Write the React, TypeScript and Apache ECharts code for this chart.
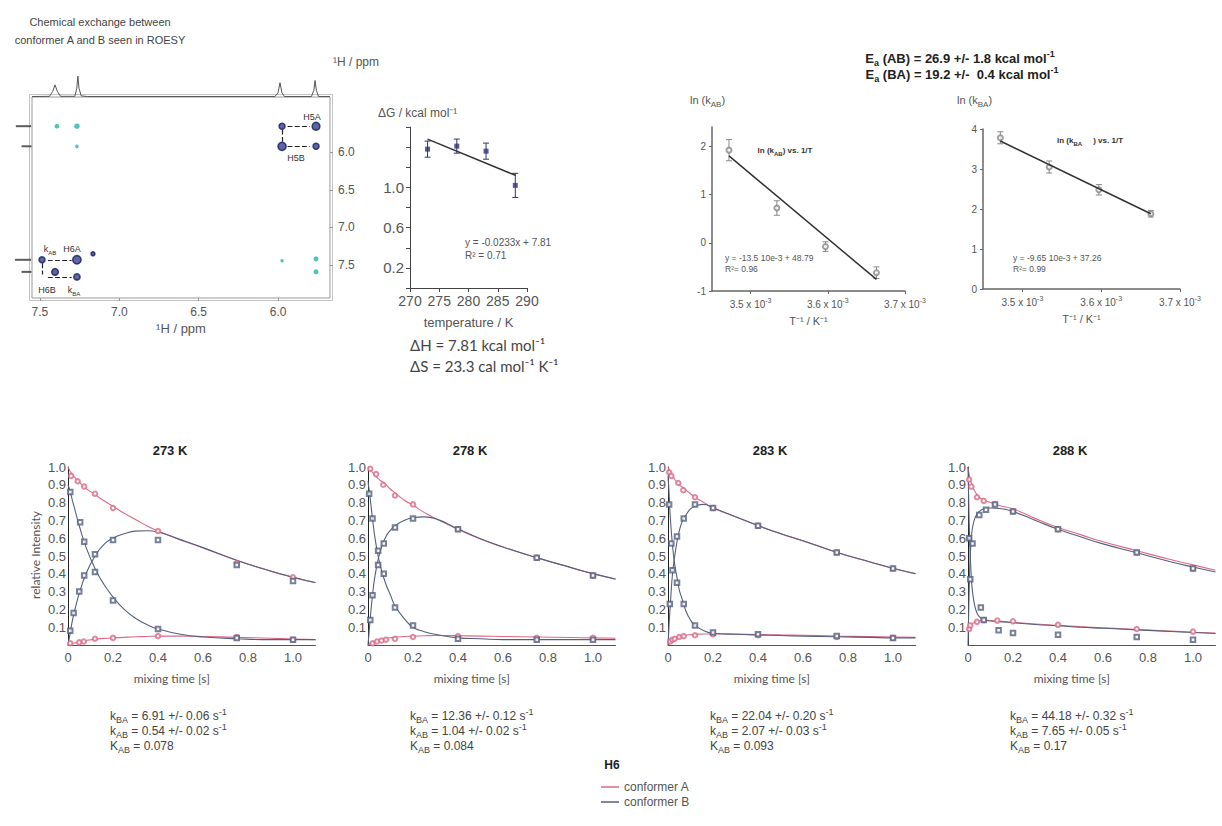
import React, { useEffect, useRef } from 'react';
import * as echarts from 'echarts';

const FONT = '"Liberation Sans", Arial, sans-serif';
const SOFT = 'Lato, "Open Sans", sans-serif';
const GRAY = '#555';
const RED = '#dc6a86';
const BLUE = '#55607f';

// ---------- ROESY panel ----------
const roesyTicks = [6.0, 6.5, 7.0, 7.5];
// [ppm (F2), ppm (F1), relative intensity]
const roesyNavy = [
  [5.975, 5.652, 0.5], [5.761, 5.652, 0.8], [5.975, 5.92, 0.85], [5.761, 5.92, 0.5],
  [7.487, 7.433, 0.5], [7.267, 7.433, 0.9], [7.405, 7.594, 0.6], [7.267, 7.661, 0.55], [7.166, 7.353, 0.15],
];
const roesyCyan = [
  [7.393, 5.652, 0.25], [7.267, 5.652, 0.35], [7.267, 5.92, 0.1],
  [5.975, 7.446, 0.05], [5.761, 7.42, 0.3], [5.761, 7.594, 0.3],
];
const roesyLinks = [
  [[5.94, 5.652], [5.8, 5.652]], [[5.94, 5.92], [5.8, 5.92]], [[5.975, 5.7], [5.975, 5.87]],
  [[7.45, 7.433], [7.3, 7.433]], [[7.45, 7.661], [7.3, 7.661]], [[7.487, 7.48], [7.487, 7.63]],
];
const spectrum1D = [
  [7.55, 0.02], [7.44, 0.03], [7.42, 0.25], [7.405, 0.55], [7.39, 0.25], [7.37, 0.03], [7.28, 0.03],
  [7.268, 0.4], [7.261, 0.95], [7.254, 0.4], [7.24, 0.05], [7.2, 0.02], [6.02, 0.02], [6.0, 0.2],
  [5.988, 0.65], [5.976, 0.2], [5.96, 0.02], [5.79, 0.02], [5.775, 0.3], [5.767, 0.75], [5.759, 0.3],
  [5.745, 0.02], [5.673, 0.02],
];
const projection1D = [[5.652, 0.85], [5.92, 0.55], [7.433, 0.9], [7.594, 0.55]];

// ---------- ΔG vs T ----------
const temps = [273, 278, 283, 288];
const deltaG = [1.38, 1.41, 1.36, 1.02];
const deltaGErr = [0.08, 0.07, 0.08, 0.12];
const deltaGFit = [[273, 1.48], [288, 1.12]];

// ---------- Arrhenius ----------
const invT = [3.472e-3, 3.534e-3, 3.597e-3, 3.663e-3];
const lnKAB = [1.92, 0.72, -0.08, -0.62];
const lnKABErr = [0.22, 0.15, 0.1, 0.12];
const lnKABFit = [[3.472e-3, 1.8], [3.663e-3, -0.76]];
const lnKBA = [3.78, 3.05, 2.48, 1.88];
const lnKBAErr = [0.15, 0.15, 0.13, 0.08];
const lnKBAFit = [[3.472e-3, 3.7], [3.663e-3, 1.88]];
const invTTicks = [3.5e-3, 3.6e-3, 3.7e-3];

// ---------- kinetics ----------
const kinTitles = ['273 K', '278 K', '283 K', '288 K'];
const kinXTicks = [0, 0.2, 0.4, 0.6, 0.8, 1.0];
const kinYTicks = [0.1, 0.2, 0.3, 0.4, 0.5, 0.6, 0.7, 0.8, 0.9, 1.0];
const kBAtext = ['6.91 +/- 0.06', '12.36 +/- 0.12', '22.04 +/- 0.20', '44.18 +/- 0.32'];
const kABtext = ['0.54 +/- 0.02', '1.04 +/- 0.02', '2.07 +/- 0.03', '7.65 +/- 0.05'];
const KABtext = ['0.078', '0.084', '0.093', '0.17'];

const fitT273 = [0, 0.01, 0.02, 0.035, 0.05, 0.08, 0.12, 0.16, 0.2, 0.25, 0.3, 0.35, 0.4, 0.5, 0.6, 0.75, 0.9, 1.0, 1.1];
const fitAhi273 = [1.0, 0.975, 0.955, 0.935, 0.915, 0.88, 0.845, 0.81, 0.78, 0.74, 0.705, 0.67, 0.64, 0.59, 0.545, 0.475, 0.415, 0.38, 0.35];
const fitBup273 = [0, 0.07, 0.14, 0.22, 0.29, 0.4, 0.5, 0.565, 0.6, 0.625, 0.64, 0.642, 0.635, 0.592, 0.547, 0.476, 0.416, 0.381, 0.351];
const fitBdn273 = [0.9, 0.86, 0.81, 0.74, 0.67, 0.55, 0.43, 0.34, 0.27, 0.2, 0.15, 0.115, 0.09, 0.06, 0.045, 0.035, 0.03, 0.03, 0.03];
const fitAlo273 = [0, 0.004, 0.008, 0.013, 0.018, 0.025, 0.033, 0.037, 0.04, 0.043, 0.046, 0.048, 0.05, 0.05, 0.048, 0.043, 0.038, 0.034, 0.03];
const ptAhi273 = [[0.014, 0.95], [0.043, 0.92], [0.072, 0.89], [0.12, 0.85], [0.2, 0.77], [0.4, 0.64], [0.75, 0.46], [1.0, 0.38]];
const ptBup273 = [[0.01, 0.08], [0.025, 0.18], [0.05, 0.3], [0.072, 0.39], [0.12, 0.51], [0.2, 0.59], [0.4, 0.59], [0.75, 0.45], [1.0, 0.36]];
const ptBdn273 = [[0.01, 0.86], [0.054, 0.69], [0.072, 0.58], [0.12, 0.41], [0.2, 0.25], [0.4, 0.09], [0.75, 0.04], [1.0, 0.03]];
const ptAlo273 = [[0.01, 0.01], [0.05, 0.015], [0.07, 0.02], [0.12, 0.035], [0.2, 0.04], [0.4, 0.05], [0.75, 0.045], [1.0, 0.03]];

const fitT278 = [0, 0.01, 0.02, 0.03, 0.045, 0.06, 0.08, 0.1, 0.12, 0.16, 0.2, 0.25, 0.3, 0.4, 0.5, 0.6, 0.75, 0.9, 1.0, 1.1];
const fitAhi278 = [1.0, 0.985, 0.97, 0.955, 0.935, 0.92, 0.9, 0.875, 0.855, 0.815, 0.785, 0.745, 0.71, 0.65, 0.595, 0.55, 0.49, 0.435, 0.4, 0.37];
const fitBup278 = [0, 0.15, 0.28, 0.38, 0.48, 0.55, 0.61, 0.645, 0.67, 0.7, 0.715, 0.72, 0.71, 0.652, 0.597, 0.551, 0.491, 0.436, 0.401, 0.371];
const fitBdn278 = [0.92, 0.82, 0.71, 0.61, 0.5, 0.42, 0.34, 0.28, 0.22, 0.15, 0.1, 0.075, 0.06, 0.04, 0.035, 0.03, 0.03, 0.03, 0.03, 0.03];
const fitAlo278 = [0, 0.008, 0.015, 0.02, 0.027, 0.032, 0.037, 0.041, 0.044, 0.048, 0.05, 0.052, 0.053, 0.052, 0.05, 0.048, 0.045, 0.042, 0.04, 0.038];
const ptAhi278 = [[0.01, 0.99], [0.036, 0.96], [0.068, 0.9], [0.12, 0.84], [0.2, 0.79], [0.4, 0.65], [0.75, 0.49], [1.0, 0.39]];
const ptBup278 = [[0.01, 0.14], [0.02, 0.28], [0.045, 0.53], [0.07, 0.57], [0.12, 0.66], [0.2, 0.71], [0.4, 0.65], [0.75, 0.49], [1.0, 0.39]];
const ptBdn278 = [[0.005, 0.85], [0.02, 0.71], [0.045, 0.45], [0.07, 0.4], [0.12, 0.21], [0.2, 0.11], [0.4, 0.035], [0.75, 0.03], [1.0, 0.03]];
const ptAlo278 = [[0.02, 0.01], [0.04, 0.02], [0.06, 0.025], [0.08, 0.03], [0.12, 0.035], [0.2, 0.045], [0.4, 0.05], [0.75, 0.04], [1.0, 0.04]];

const fitT283 = [0, 0.005, 0.01, 0.02, 0.03, 0.04, 0.05, 0.065, 0.08, 0.1, 0.12, 0.16, 0.2, 0.3, 0.4, 0.5, 0.6, 0.75, 0.9, 1.0, 1.1];
const fitAhi283 = [1.0, 0.985, 0.97, 0.95, 0.93, 0.915, 0.9, 0.885, 0.87, 0.85, 0.83, 0.8, 0.77, 0.72, 0.67, 0.625, 0.585, 0.52, 0.465, 0.43, 0.4];
const fitBup283 = [0, 0.12, 0.22, 0.4, 0.5, 0.58, 0.64, 0.7, 0.73, 0.765, 0.78, 0.79, 0.771, 0.721, 0.671, 0.626, 0.586, 0.521, 0.466, 0.431, 0.401];
const fitBdn283 = [0.95, 0.85, 0.72, 0.56, 0.45, 0.38, 0.31, 0.25, 0.19, 0.14, 0.11, 0.08, 0.066, 0.06, 0.056, 0.053, 0.05, 0.046, 0.043, 0.04, 0.04];
const fitAlo283 = [0, 0.008, 0.015, 0.025, 0.033, 0.04, 0.045, 0.05, 0.055, 0.058, 0.06, 0.062, 0.062, 0.061, 0.059, 0.057, 0.055, 0.05, 0.047, 0.045, 0.043];
const ptAhi283 = [[0.005, 0.97], [0.015, 0.95], [0.046, 0.91], [0.068, 0.87], [0.12, 0.83], [0.2, 0.77], [0.4, 0.67], [0.75, 0.52], [1.0, 0.43]];
const ptBup283 = [[0.008, 0.23], [0.04, 0.61], [0.07, 0.71], [0.12, 0.79], [0.2, 0.77], [0.4, 0.67], [0.75, 0.52], [1.0, 0.43]];
const ptBdn283 = [[0.005, 0.79], [0.015, 0.57], [0.02, 0.42], [0.04, 0.35], [0.07, 0.23], [0.12, 0.11], [0.2, 0.07], [0.4, 0.06], [0.75, 0.05], [1.0, 0.04]];
const ptAlo283 = [[0.01, 0.02], [0.02, 0.03], [0.03, 0.035], [0.05, 0.045], [0.07, 0.05], [0.12, 0.055], [0.2, 0.06], [0.4, 0.055], [0.75, 0.045], [1.0, 0.04]];

const fitT288 = [0, 0.005, 0.01, 0.015, 0.02, 0.03, 0.04, 0.05, 0.07, 0.1, 0.15, 0.2, 0.3, 0.4, 0.5, 0.6, 0.75, 0.9, 1.0, 1.1];
const fitAhi288 = [1.0, 0.96, 0.93, 0.91, 0.89, 0.865, 0.845, 0.83, 0.815, 0.8, 0.78, 0.765, 0.71, 0.66, 0.62, 0.58, 0.53, 0.48, 0.45, 0.42];
const fitBup288 = [0, 0.3, 0.5, 0.6, 0.66, 0.71, 0.735, 0.75, 0.765, 0.77, 0.765, 0.75, 0.7, 0.65, 0.608, 0.568, 0.518, 0.468, 0.438, 0.41];
const fitBdn288 = [1.0, 0.7, 0.5, 0.38, 0.3, 0.22, 0.18, 0.16, 0.14, 0.135, 0.13, 0.125, 0.115, 0.108, 0.1, 0.094, 0.085, 0.076, 0.07, 0.065];
const fitAlo288 = [0.08, 0.1, 0.11, 0.115, 0.12, 0.128, 0.133, 0.136, 0.14, 0.138, 0.133, 0.128, 0.118, 0.11, 0.103, 0.097, 0.087, 0.078, 0.072, 0.067];
const ptAhi288 = [[0.005, 0.93], [0.015, 0.89], [0.04, 0.83], [0.07, 0.81], [0.12, 0.79], [0.2, 0.75], [0.4, 0.65], [0.75, 0.52], [1.0, 0.43]];
const ptBup288 = [[0.02, 0.57], [0.05, 0.73], [0.08, 0.76], [0.12, 0.79], [0.2, 0.75], [0.4, 0.65], [0.75, 0.52], [1.0, 0.43]];
const ptBdn288 = [[0.005, 0.6], [0.01, 0.37], [0.057, 0.21], [0.07, 0.14], [0.136, 0.083], [0.2, 0.067], [0.4, 0.058], [0.75, 0.045], [1.0, 0.03]];
const ptAlo288 = [[0.005, 0.09], [0.01, 0.11], [0.04, 0.13], [0.07, 0.14], [0.13, 0.137], [0.2, 0.133], [0.4, 0.113], [0.75, 0.09], [1.0, 0.075]];

const panels = [
  { t: fitT273, ahi: fitAhi273, bup: fitBup273, bdn: fitBdn273, alo: fitAlo273, pAhi: ptAhi273, pBup: ptBup273, pBdn: ptBdn273, pAlo: ptAlo273 },
  { t: fitT278, ahi: fitAhi278, bup: fitBup278, bdn: fitBdn278, alo: fitAlo278, pAhi: ptAhi278, pBup: ptBup278, pBdn: ptBdn278, pAlo: ptAlo278 },
  { t: fitT283, ahi: fitAhi283, bup: fitBup283, bdn: fitBdn283, alo: fitAlo283, pAhi: ptAhi283, pBup: ptBup283, pBdn: ptBdn283, pAlo: ptAlo283 },
  { t: fitT288, ahi: fitAhi288, bup: fitBup288, bdn: fitBdn288, alo: fitAlo288, pAhi: ptAhi288, pBup: ptBup288, pBdn: ptBdn288, pAlo: ptAlo288 },
];

// ---------- helpers ----------
const richSet = (size: number, weight = 'normal') => ({
  n: { fontSize: size, fontWeight: weight, lineHeight: size + 5 },
  s: { fontSize: Math.round(size * 0.72), fontWeight: weight, lineHeight: Math.round(size * 0.72), verticalAlign: 'bottom' },
  p: { fontSize: Math.round(size * 0.72), fontWeight: weight, lineHeight: Math.round(size * 0.72), verticalAlign: 'top' },
});

function txt(x: number, y: number, text: string, o: any = {}) {
  const size = o.size || 12;
  return {
    type: 'text', x, y, silent: true, rotation: o.rot || 0,
    style: {
      text, fill: o.fill || GRAY, fontSize: size, fontFamily: o.family || FONT, fontWeight: o.weight || 'normal',
      align: o.align || 'left', textAlign: o.align || 'left', verticalAlign: 'middle', textVerticalAlign: 'middle',
      rich: o.rich ? richSet(size, o.weight || 'normal') : undefined,
    },
  };
}

const errRender = (color: string, cap: number) => (params: any, api: any) => {
  const x = api.value(0), y = api.value(1), e = api.value(2);
  const a = api.coord([x, y + e]);
  const b = api.coord([x, y - e]);
  const st = { stroke: color, lineWidth: 1 };
  return {
    type: 'group',
    children: [
      { type: 'line', shape: { x1: a[0], y1: a[1], x2: b[0], y2: b[1] }, style: st },
      { type: 'line', shape: { x1: a[0] - cap, y1: a[1], x2: a[0] + cap, y2: a[1] }, style: st },
      { type: 'line', shape: { x1: b[0] - cap, y1: b[1], x2: b[0] + cap, y2: b[1] }, style: st },
    ],
  };
};

const zip = (t: number[], v: number[]) => t.map((x, i) => [x, v[i]]);

function buildOption() {
  const kinLeft = [68, 368, 668, 968];
  const kinTop = 467, kinH = 178, kinW = 247.5;

  const grid: any[] = [
    { left: 32, top: 97, width: 298, height: 201, show: true, borderColor: '#999', borderWidth: 1 },
    { left: 32, top: 75, width: 298, height: 22 },
    { left: 12, top: 97, width: 20, height: 201 },
    { left: 410, top: 127, width: 117, height: 161 },
    { left: 712, top: 127, width: 193, height: 164 },
    { left: 983, top: 129, width: 197, height: 160 },
  ];
  kinLeft.forEach((l) => grid.push({ left: l, top: kinTop, width: kinW, height: kinH }));

  const hidden = { show: false };
  const xAxis: any[] = [
    {
      gridIndex: 0, type: 'value', min: 5.673, max: 7.55, inverse: true,
      axisLine: hidden, splitLine: hidden,
      axisTick: { show: true, customValues: roesyTicks, length: 3, lineStyle: { color: '#999' } },
      axisLabel: { customValues: roesyTicks, formatter: (v: number) => v.toFixed(1), color: GRAY, fontSize: 12, fontFamily: FONT, margin: 8 },
      name: '¹H / ppm', nameLocation: 'middle', nameGap: 24, nameTextStyle: { color: GRAY, fontSize: 13, fontFamily: FONT },
    },
    { gridIndex: 1, type: 'value', min: 5.673, max: 7.55, inverse: true, show: false },
    { gridIndex: 2, type: 'value', min: 0, max: 1, show: false },
    {
      gridIndex: 3, type: 'value', min: 270, max: 290, interval: 5,
      axisLine: { lineStyle: { color: '#444' } }, axisTick: { show: true, length: 4 }, splitLine: hidden,
      axisLabel: { color: GRAY, fontSize: 14, fontFamily: FONT, margin: 6 },
      name: 'temperature / K', nameLocation: 'middle', nameGap: 28, nameTextStyle: { color: GRAY, fontSize: 13, fontFamily: FONT },
    },
  ];
  const arrX = (gi: number) => ({
    gridIndex: gi, type: 'value', min: 3.45e-3, max: 3.7e-3,
    axisLine: { onZero: false, lineStyle: { color: '#666', width: 1.5 } }, splitLine: hidden,
    axisTick: { show: true, customValues: invTTicks, length: 3 },
    axisLabel: {
      customValues: invTTicks, color: GRAY, fontFamily: FONT, margin: 6,
      formatter: (v: number) => `{m|${(v * 1000).toFixed(1)} x 10}{s|-3}`,
      rich: { m: { fontSize: 10, color: GRAY, lineHeight: 14 }, s: { fontSize: 7, color: GRAY, lineHeight: 7, verticalAlign: 'top' } },
    },
    name: 'T⁻¹ / K⁻¹', nameLocation: 'middle', nameGap: 24, nameTextStyle: { color: GRAY, fontSize: 11, fontFamily: FONT },
  });
  xAxis.push(arrX(4), arrX(5));
  kinLeft.forEach((_, i) =>
    xAxis.push({
      gridIndex: 6 + i, type: 'value', min: 0, max: 1.1,
      axisLine: { lineStyle: { color: '#555' } }, axisTick: hidden, splitLine: hidden,
      axisLabel: { customValues: kinXTicks, formatter: (v: number) => (v === 0 ? '0' : v.toFixed(1)), color: GRAY, fontSize: 13, fontFamily: FONT, margin: 6 },
      name: 'mixing time [s]', nameLocation: 'middle', nameGap: 27,
      nameTextStyle: { color: GRAY, fontSize: 12, fontFamily: SOFT, padding: [0, 40, 0, 0] },
    })
  );

  const yAxis: any[] = [
    {
      gridIndex: 0, type: 'value', min: 5.263, max: 7.942, inverse: true, position: 'right',
      axisLine: hidden, splitLine: hidden,
      axisTick: { show: true, customValues: roesyTicks, length: 3, lineStyle: { color: '#999' } },
      axisLabel: { customValues: roesyTicks, formatter: (v: number) => v.toFixed(1), color: GRAY, fontSize: 12, fontFamily: FONT, margin: 8 },
    },
    { gridIndex: 1, type: 'value', min: 0, max: 1, show: false },
    { gridIndex: 2, type: 'value', min: 5.263, max: 7.942, inverse: true, show: false },
    {
      gridIndex: 3, type: 'value', min: 0, max: 1.6, interval: 0.2,
      axisLine: { show: true, lineStyle: { color: '#444' } }, axisTick: { show: true, length: 4 }, splitLine: hidden,
      axisLabel: {
        color: GRAY, fontSize: 15, fontFamily: FONT, margin: 6,
        formatter: (v: number) => { const r = Math.round(v * 10) / 10; return r === 0.2 || r === 0.6 || r === 1.0 ? r.toFixed(1) : ''; },
      },
    },
    {
      gridIndex: 4, type: 'value', min: -1, max: 2.4, interval: 1,
      axisLine: { show: true, onZero: false, lineStyle: { color: '#666', width: 1.5 } }, axisTick: { show: true, length: 3 }, splitLine: hidden,
      axisLabel: { color: GRAY, fontSize: 10, fontFamily: FONT, margin: 6, showMaxLabel: false },
    },
    {
      gridIndex: 5, type: 'value', min: 0, max: 4, interval: 1,
      axisLine: { show: true, onZero: false, lineStyle: { color: '#666', width: 1.5 } }, axisTick: { show: true, length: 3 }, splitLine: hidden,
      axisLabel: { color: GRAY, fontSize: 10, fontFamily: FONT, margin: 6 },
    },
  ];
  kinLeft.forEach((_, i) =>
    yAxis.push({
      gridIndex: 6 + i, type: 'value', min: 0, max: 1,
      axisLine: { show: true, lineStyle: { color: '#222' } }, axisTick: hidden, splitLine: hidden,
      axisLabel: { customValues: kinYTicks, formatter: (v: number) => v.toFixed(1), color: GRAY, fontSize: 13, fontFamily: FONT, margin: 2 },
    })
  );

  const series: any[] = [
    {
      type: 'line', xAxisIndex: 1, yAxisIndex: 1, data: spectrum1D, symbol: 'none', silent: true,
      lineStyle: { color: '#555', width: 1 },
    },
    {
      type: 'scatter', xAxisIndex: 2, yAxisIndex: 2, data: projection1D.map((d) => [1 - d[1] / 2, d[0], d[1]]),
      symbol: 'rect', symbolSize: (v: number[]) => [v[2] * 18, 2], itemStyle: { color: '#333' }, silent: true,
    },
    {
      type: 'lines', coordinateSystem: 'cartesian2d', xAxisIndex: 0, yAxisIndex: 0, silent: true,
      data: roesyLinks.map((c) => ({ coords: c })), lineStyle: { color: '#222', type: 'dashed', width: 1.2, opacity: 1 },
    },
    {
      type: 'scatter', xAxisIndex: 0, yAxisIndex: 0, data: roesyCyan, symbolSize: (v: number[]) => 3 + v[2] * 7,
      itemStyle: { color: '#3dbdb3', opacity: 0.9 }, silent: true,
    },
    {
      type: 'scatter', xAxisIndex: 0, yAxisIndex: 0, data: roesyNavy, symbolSize: (v: number[]) => 3 + v[2] * 6,
      itemStyle: { color: '#34408f', borderColor: '#161c5a', borderWidth: 1.5 }, silent: true,
    },
    // ΔG
    {
      type: 'custom', xAxisIndex: 3, yAxisIndex: 3, renderItem: errRender('#2e3578', 3), silent: true,
      data: temps.map((t, i) => [t, deltaG[i], deltaGErr[i]]), encode: { x: 0, y: 1 },
    },
    {
      type: 'line', xAxisIndex: 3, yAxisIndex: 3, data: deltaGFit, symbol: 'none', silent: true,
      lineStyle: { color: '#333', width: 1.5 },
    },
    {
      type: 'scatter', xAxisIndex: 3, yAxisIndex: 3, data: temps.map((t, i) => [t, deltaG[i]]),
      symbol: 'rect', symbolSize: 5, itemStyle: { color: '#2e3578' }, silent: true,
    },
    // Arrhenius AB
    {
      type: 'custom', xAxisIndex: 4, yAxisIndex: 4, renderItem: errRender('#888', 3), silent: true,
      data: invT.map((t, i) => [t, lnKAB[i], lnKABErr[i]]), encode: { x: 0, y: 1 },
    },
    {
      type: 'line', xAxisIndex: 4, yAxisIndex: 4, data: lnKABFit, symbol: 'none', silent: true,
      lineStyle: { color: '#333', width: 1.5 },
    },
    {
      type: 'scatter', xAxisIndex: 4, yAxisIndex: 4, data: invT.map((t, i) => [t, lnKAB[i]]),
      symbol: 'emptyCircle', symbolSize: 5, itemStyle: { color: '#888' }, silent: true,
    },
    // Arrhenius BA
    {
      type: 'custom', xAxisIndex: 5, yAxisIndex: 5, renderItem: errRender('#888', 3), silent: true,
      data: invT.map((t, i) => [t, lnKBA[i], lnKBAErr[i]]), encode: { x: 0, y: 1 },
    },
    {
      type: 'line', xAxisIndex: 5, yAxisIndex: 5, data: lnKBAFit, symbol: 'none', silent: true,
      lineStyle: { color: '#333', width: 1.5 },
    },
    {
      type: 'scatter', xAxisIndex: 5, yAxisIndex: 5, data: invT.map((t, i) => [t, lnKBA[i]]),
      symbol: 'emptyCircle', symbolSize: 5, itemStyle: { color: '#888' }, silent: true,
    },
  ];

  panels.forEach((p, i) => {
    const ax = { xAxisIndex: 6 + i, yAxisIndex: 6 + i };
    const curve = (name: string, vals: number[], color: string) => ({
      type: 'line', name, ...ax, data: zip(p.t, vals), smooth: 0.5, symbol: 'none',
      lineStyle: { color, width: 1.1 }, itemStyle: { color }, silent: true, z: 2,
    });
    const pts = (name: string, data: number[][], color: string, symbol: string) => ({
      type: 'scatter', name, ...ax, data, symbol, symbolSize: 4.5,
      itemStyle: { color, borderColor: color, borderWidth: 1 }, silent: true, z: 3,
    });
    series.push(
      curve('conformer A', p.ahi, RED),
      curve('conformer A', p.alo, RED),
      curve('conformer B', p.bup, BLUE),
      curve('conformer B', p.bdn, BLUE),
      pts('A data', p.pAhi, RED, 'emptyCircle'),
      pts('A data', p.pAlo, RED, 'emptyCircle'),
      pts('B data', p.pBup, BLUE, 'emptyRect'),
      pts('B data', p.pBdn, BLUE, 'emptyRect'),
    );
  });

  const graphics: any[] = [
    { type: 'rect', silent: true, shape: { x: 29.5, y: 94.5, width: 303, height: 206 }, style: { fill: 'none', stroke: '#c4c4c4', lineWidth: 1 } },
    txt(100, 22, 'Chemical exchange between', { size: 11, align: 'center', fill: '#444' }),
    txt(100, 40, 'conformer A and B seen in ROESY', { size: 11, align: 'center', fill: '#444' }),
    txt(333, 62, '¹H / ppm', { size: 12 }),
    txt(312, 117, 'H5A', { size: 9, align: 'center', fill: '#333' }),
    txt(296, 158, 'H5B', { size: 9, align: 'center', fill: '#333' }),
    txt(50, 249, '{n|k}{s|AB}', { size: 9, align: 'center', fill: '#333', rich: true }),
    txt(72, 249, 'H6A', { size: 9, align: 'center', fill: '#333' }),
    txt(47, 290, 'H6B', { size: 9, align: 'center', fill: '#333' }),
    txt(74, 290, '{n|k}{s|BA}', { size: 9, align: 'center', fill: '#333', rich: true }),
    txt(378, 113, 'ΔG / kcal mol⁻¹', { size: 12 }),
    txt(465, 242, 'y = -0.0233x + 7.81', { size: 10 }),
    txt(465, 255, 'R² = 0.71', { size: 10 }),
    txt(410, 345, 'ΔH = 7.81 kcal mol⁻¹', { size: 15, family: SOFT, fill: '#444' }),
    txt(410, 366, 'ΔS = 23.3 cal mol⁻¹ K⁻¹', { size: 15, family: SOFT, fill: '#444' }),
    txt(960, 58, '{n|E}{s|a}{n| (AB) = 26.9 +/- 1.8 kcal mol}{p|-1}', { size: 13, weight: 'bold', align: 'center', fill: '#222', rich: true }),
    txt(962, 74, '{n|E}{s|a}{n| (BA) = 19.2 +/-  0.4 kcal mol}{p|-1}', { size: 13, weight: 'bold', align: 'center', fill: '#222', rich: true }),
    txt(690, 100, '{n|ln (k}{s|AB}{n|)}', { size: 11, rich: true }),
    txt(957, 100, '{n|ln (k}{s|BA}{n|)}', { size: 11, rich: true }),
    txt(785, 150, '{n|ln (k}{s|AB}{n|) vs. 1/T}', { size: 8, weight: 'bold', align: 'center', fill: '#333', rich: true }),
    txt(1090, 140, '{n|ln (k}{s|BA}{n|     ) vs. 1/T}', { size: 8, weight: 'bold', align: 'center', fill: '#333', rich: true }),
    txt(725, 258, 'y = -13.5 10e-3 + 48.79', { size: 8.5 }),
    txt(725, 269, 'R²= 0.96', { size: 8.5 }),
    txt(1013, 258, 'y = -9.65 10e-3 + 37.26', { size: 8.5 }),
    txt(1013, 269, 'R²= 0.99', { size: 8.5 }),
    txt(35, 555, 'relative Intensity', { size: 12, align: 'center', rot: Math.PI / 2, family: SOFT }),
    txt(612, 765, 'H6', { size: 12, weight: 'bold', align: 'center', fill: '#222' }),
  ];
  kinLeft.forEach((l, i) => {
    graphics.push(
      txt(l + 102, 450, kinTitles[i], { size: 13, weight: 'bold', align: 'center', fill: '#222' }),
      txt(l + 42, 716, `{n|k}{s|BA}{n| = ${kBAtext[i]} s}{p|-1}`, { size: 12, family: SOFT, fill: '#444', rich: true }),
      txt(l + 42, 731, `{n|k}{s|AB}{n| = ${kABtext[i]} s}{p|-1}`, { size: 12, family: SOFT, fill: '#444', rich: true }),
      txt(l + 42, 746, `{n|K}{s|AB}{n| = ${KABtext[i]}}`, { size: 12, family: SOFT, fill: '#444', rich: true }),
    );
  });

  return {
    animation: false,
    backgroundColor: '#fff',
    grid, xAxis, yAxis, series,
    legend: {
      data: ['conformer A', 'conformer B'], orient: 'vertical', left: 596, top: 776,
      icon: 'rect', itemWidth: 18, itemHeight: 1.5, itemGap: 3, selectedMode: false,
      textStyle: { color: GRAY, fontSize: 12, fontFamily: FONT },
    },
    graphic: { elements: graphics },
  };
}

export default function App() {
  const ref = useRef<HTMLDivElement>(null);
  useEffect(() => {
    document.body.style.margin = '0';
    const chart = echarts.init(ref.current as HTMLDivElement, null, { renderer: 'svg' });
    chart.setOption(buildOption() as any);
    return () => chart.dispose();
  }, []);
  return <div ref={ref} style={{ width: 1222, height: 826 }} />;
}
